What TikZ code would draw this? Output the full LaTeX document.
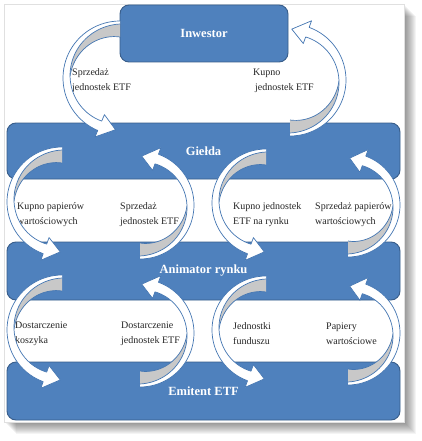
\documentclass[tikz,border=0pt]{standalone}
\usepackage{fontspec}
\setmainfont{Liberation Serif}
\usepackage{tikz}
\definecolor{boxblue}{RGB}{79,129,189}
\definecolor{boxedge}{RGB}{56,93,138}
\definecolor{ribbongrey}{RGB}{200,200,200}
\definecolor{ribbonline}{RGB}{68,118,178}

% curved ribbon arrow: centre x, centre y, radius, start angle, tip angle
\newcommand{\ringarrow}[5]{%
  \pgfmathsetmacro\rdir{(#5>#4)?1:-1}%
  \pgfmathsetmacro\rbody{#5-(\rdir)*18}%
  \pgfmathsetmacro\rgrey{#4+((#5)-(#4))*0.5}%
  \pgfmathsetmacro\rtipw{3+8*(\rbody-(#4))/((#5)-(#4))}%
  \def\rin{(#3-3-8*(\x-(#4))/((#5)-(#4)))}%
  \def\rback{(\rin-13*(\rgrey-\x)/(\rgrey-(#4)))}%
  \fill[ribbongrey]
    plot[domain=#4:\rgrey,samples=30] ({#1+\rin*cos(\x)},{#2+\rin*sin(\x)})
    -- plot[domain=\rgrey:#4,samples=30] ({#1+\rback*cos(\x)},{#2+\rback*sin(\x)});
  \draw[ribbonline,line width=0.7pt]
    plot[domain=#4:\rgrey,samples=30] ({#1+\rback*cos(\x)},{#2+\rback*sin(\x)});
  \filldraw[fill=white,draw=ribbonline,line width=0.7pt,line join=round]
    plot[domain=#4:\rbody,samples=40] ({#1+#3*cos(\x)},{#2+#3*sin(\x)})
    -- ({#1+(#3+7)*cos(\rbody)},{#2+(#3+7)*sin(\rbody)})
    -- ({#1+(#3-\rtipw/2)*cos(#5)},{#2+(#3-\rtipw/2)*sin(#5)})
    -- ({#1+(#3-\rtipw-7)*cos(\rbody)},{#2+(#3-\rtipw-7)*sin(\rbody)})
    -- plot[domain=\rbody:#4,samples=40] ({#1+\rin*cos(\x)},{#2+\rin*sin(\x)});
}

\begin{document}
\begin{tikzpicture}[x=1pt,y=-1pt,
    every node/.style={font=\fontsize{10}{15}\selectfont},
    actor/.style={draw=boxedge,fill=boxblue,rounded corners=9pt,line width=0.9pt,
                  text=white,font=\fontsize{12.5}{15}\selectfont\bfseries},
    flow/.style={anchor=west,align=left,inner sep=0pt,text=black!85}]
  \useasboundingbox (0,0) rectangle (421,441);
  % frame with its shadow
  \foreach \s in {1,...,12}
    \fill[black,opacity=0.045] (4+\s,4+\s) rectangle (404+\s,422+\s);
  \fill[white] (4,4) rectangle (404,422);
  \draw[black!12] (4,4) rectangle (404,422);

  \node[actor,minimum width=168pt,minimum height=57pt] (inw) at (204,33.5) {Inwestor};
  \node[actor,minimum width=393pt,minimum height=56pt] (gie) at (203.5,151) {Giełda};
  \node[actor,minimum width=393pt,minimum height=58pt] (ani) at (203.5,271) {Animator rynku};
  \node[actor,minimum width=393pt,minimum height=58pt] (emi) at (203.5,391) {Emitent ETF};

  \node[flow] (sell1) at (72,80.5) {Sprzedaż\\jednostek ETF};
  \node[flow] (buy1) at (253,80.5) {Kupno\\\hspace*{2pt}jednostek ETF};
  \node[flow] (buy2) at (17,215) {Kupno papierów\\wartościowych};
  \node[flow] (sell2) at (120,215) {Sprzedaż\\jednostek ETF};
  \node[flow] (buy3) at (233,215) {Kupno jednostek\\ETF na rynku};
  \node[flow] (sell3) at (315,215) {Sprzedaż papierów\\wartościowych};
  \node[flow] (basket) at (15,334) {Dostarczenie\\koszyka};
  \node[flow] (units) at (121,334) {Dostarczenie\\jednostek ETF};
  \node[flow] (fund) at (233,334) {Jednostki\\funduszu};
  \node[flow] (paper) at (326,334) {Papiery\\wartościowe};

  % Inwestor <-> Giełda
  \ringarrow{120}{78}{57}{270}{95}
  \ringarrow{290}{80}{56}{90}{-88}
  % Giełda <-> Animator rynku
  \ringarrow{62}{202}{55}{270}{92}
  \ringarrow{140}{205}{54}{90}{-88}
  \ringarrow{266}{203}{54}{270}{92}
  \ringarrow{348}{205}{52}{90}{-88}
  % Animator rynku <-> Emitent ETF
  \ringarrow{62}{330}{55}{270}{92}
  \ringarrow{140}{333}{54}{90}{-88}
  \ringarrow{266}{330}{54}{270}{92}
  \ringarrow{348}{333}{52}{90}{-88}
\end{tikzpicture}
\end{document}
